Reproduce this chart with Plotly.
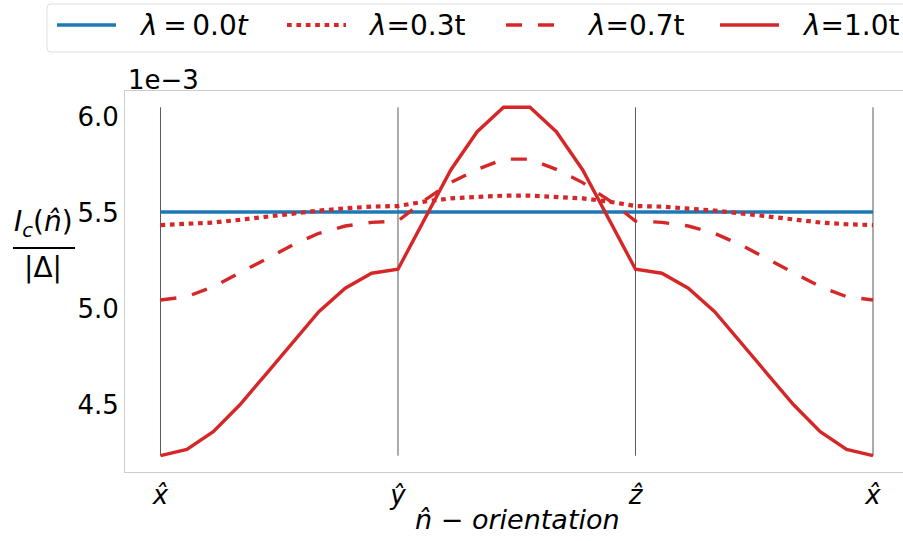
import plotly.graph_objects as go

# ---------------------------------------------------------------------------
# Data: critical current I_c(n̂)/|Δ| (in units of 1e-3) along the path
# x̂ -> ŷ -> ẑ -> x̂, 9 steps per leg (28 samples, shared corners)
# ---------------------------------------------------------------------------
orient_ticks = [0, 9, 18, 27]
orient_labels = ["<i>x\u0302</i>", "<i>y\u0302</i>", "<i>z\u0302</i>", "<i>x\u0302</i>"]
path_index = list(range(28))

ic_lam00 = [5.505] * 28

ic_lam03 = [5.437, 5.441, 5.450, 5.464, 5.481, 5.498, 5.512, 5.524, 5.533, 5.536,
            5.559, 5.576, 5.585, 5.590, 5.590, 5.585, 5.576, 5.559, 5.536,
            5.533, 5.524, 5.512, 5.498, 5.481, 5.464, 5.450, 5.441, 5.437]

ic_lam07 = [5.047, 5.064, 5.116, 5.186, 5.260, 5.333, 5.394, 5.432, 5.451, 5.458,
            5.565, 5.658, 5.727, 5.780, 5.780, 5.727, 5.658, 5.565, 5.458,
            5.451, 5.432, 5.394, 5.333, 5.260, 5.186, 5.116, 5.064, 5.047]

ic_lam10 = [4.236, 4.269, 4.361, 4.500, 4.661, 4.821, 4.986, 5.108, 5.186, 5.207,
            5.465, 5.724, 5.923, 6.050, 6.050, 5.923, 5.724, 5.465, 5.207,
            5.186, 5.108, 4.986, 4.821, 4.661, 4.500, 4.361, 4.269, 4.236]

y_ticks = [4.5, 5.0, 5.5, 6.0]
y_ticklabels = ["4.5", "5.0", "5.5", "6.0"]

series_names = ["<i>λ</i>\u2009=\u20090.0<i>t</i>", "<i>λ</i>=0.3t", "<i>λ</i>=0.7t", "<i>λ</i>=1.0t"]

BLUE = "#1f77b4"
RED = "#d62728"
LW = 3.4
DOT = "4.7px,4.7px"
DASH = "16px,16px"
FONT = "DejaVu Sans"

# figure / plot-area geometry in pixels
W, H = 903, 541
PL, PR, PT, PB = 125, 903, 91, 472


def px_x(X):
    return (X - PL) / (PR - PL)


def px_y(Y):
    return (PB - Y) / (PB - PT)


fig = go.Figure()

# vertical guides at the high-symmetry directions
gx, gy = [], []
for t in orient_ticks:
    gx += [t, t, None]
    gy += [min(ic_lam10), max(ic_lam10), None]
fig.add_trace(go.Scatter(x=gx, y=gy, mode="lines",
                         line=dict(color="rgba(0,0,0,0.65)", width=1),
                         hoverinfo="skip", showlegend=False))

styles = [(ic_lam00, BLUE, "solid", LW), (ic_lam03, RED, DOT, 4.2),
          (ic_lam07, RED, DASH, LW), (ic_lam10, RED, "solid", LW)]
for (vals, col, dash, lw), name in zip(styles, series_names):
    fig.add_trace(go.Scatter(x=path_index, y=vals, mode="lines", name=name,
                             line=dict(color=col, width=lw, dash=dash),
                             showlegend=False))

shapes = []
annotations = []

# legend frame (rounded box)
lx0, lx1, ly0, ly1 = 47, 906, 4, 52
r = 4
X0, X1 = px_x(lx0), px_x(lx1)
Y0, Y1 = px_y(ly1), px_y(ly0)
rx = r / (PR - PL)
ry = r / (PB - PT)
path = (f"M {X0+rx},{Y0} L {X1-rx},{Y0} Q {X1},{Y0} {X1},{Y0+ry} "
        f"L {X1},{Y1-ry} Q {X1},{Y1} {X1-rx},{Y1} L {X0+rx},{Y1} "
        f"Q {X0},{Y1} {X0},{Y1-ry} L {X0},{Y0+ry} Q {X0},{Y0} {X0+rx},{Y0} Z")
shapes.append(dict(type="path", xref="paper", yref="paper", path=path,
                   line=dict(color="#dddddd", width=1), fillcolor="white", layer="below"))

# legend handles and labels
leg_items = [(57, 116, 137), (287, 346, 366), (506, 565, 585), (720, 779, 800)]
for (hx0, hx1, tx), (vals, col, dash, lw), name in zip(leg_items, styles, series_names):
    shapes.append(dict(type="line", xref="paper", yref="paper",
                       x0=px_x(hx0), x1=px_x(hx1), y0=px_y(25), y1=px_y(25),
                       line=dict(color=col, width=lw, dash=dash)))
    annotations.append(dict(x=px_x(tx), y=px_y(26), xref="paper", yref="paper",
                            text=name, showarrow=False, xanchor="left", yanchor="middle",
                            font=dict(size=28, color="black", family=FONT)))

# axis multiplier
annotations.append(dict(x=px_x(126), y=px_y(80), xref="paper", yref="paper",
                        text="1e\u22123", showarrow=False, xanchor="left", yanchor="middle",
                        font=dict(size=26, color="black", family=FONT)))

# y-axis label as a fraction
annotations.append(dict(x=px_x(43), y=px_y(223), xref="paper", yref="paper",
                        text="<i>I</i><sub><i>c</i></sub>(<i>n\u0302</i>)", showarrow=False,
                        xanchor="center", yanchor="middle",
                        font=dict(size=28, color="black", family=FONT)))
annotations.append(dict(x=px_x(43), y=px_y(267), xref="paper", yref="paper",
                        text="|Δ|", showarrow=False, xanchor="center", yanchor="middle",
                        font=dict(size=28, color="black", family=FONT)))
shapes.append(dict(type="line", xref="paper", yref="paper",
                   x0=px_x(13), x1=px_x(75), y0=px_y(248), y1=px_y(248),
                   line=dict(color="black", width=2)))

# x-axis title
annotations.append(dict(x=px_x(517), y=px_y(519), xref="paper", yref="paper",
                        text="<i>n\u0302 \u2212 orientation</i>", showarrow=False,
                        xanchor="center", yanchor="middle",
                        font=dict(size=27, color="black", family=FONT)))

fig.update_layout(
    width=W, height=H,
    margin=dict(l=PL, r=W - PR, t=PT, b=H - PB, pad=0),
    paper_bgcolor="white", plot_bgcolor="white",
    font=dict(family=FONT, color="black"),
    shapes=shapes, annotations=annotations,
    showlegend=False,
)
fig.update_xaxes(range=[-1.345, 28.137], tickmode="array", tickvals=orient_ticks,
                 ticktext=orient_labels, showgrid=False, zeroline=False,
                 showline=True, mirror=True, linecolor="#cccccc", linewidth=1,
                 ticks="", tickfont=dict(size=26, color="black", family=FONT))
fig.update_yaxes(range=[4.151, 6.135], tickmode="array", tickvals=y_ticks,
                 ticktext=y_ticklabels, showgrid=False, zeroline=False,
                 showline=True, linecolor="#cccccc", linewidth=1,
                 ticks="", tickfont=dict(size=26, color="black", family=FONT))

fig.write_html("out.html")
